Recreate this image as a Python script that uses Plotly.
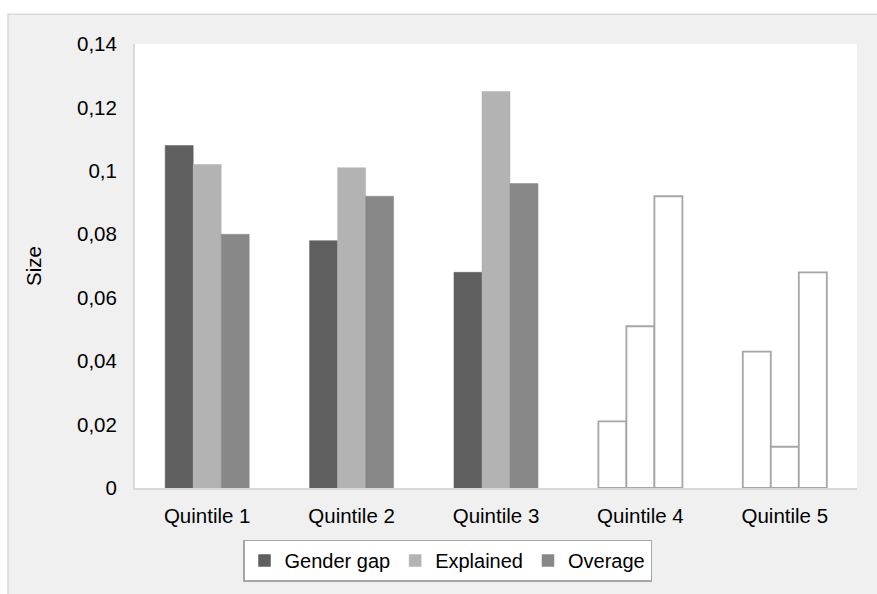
import plotly.graph_objects as go

# Decomposition sizes by income quintile
quintiles = ["Quintile 1", "Quintile 2", "Quintile 3", "Quintile 4", "Quintile 5"]
gender_gap = [0.108, 0.078, 0.068, 0.021, 0.043]
explained = [0.102, 0.101, 0.125, 0.051, 0.013]
overage = [0.080, 0.092, 0.096, 0.092, 0.068]
# Quintiles 1-3 are drawn solid, quintiles 4-5 as hollow outlines
solid = [True, True, True, False, False]

series = [
    ("Gender gap", gender_gap, "#5f5f5f"),
    ("Explained", explained, "#b3b3b3"),
    ("Overage", overage, "#888888"),
]

OUTLINE = "#a6a6a6"
FONT = "Liberation Sans, Arial, sans-serif"

fig = go.Figure()
for name, vals, col in series:
    fills = [col if s else "#ffffff" for s in solid]
    lines = [col if s else OUTLINE for s in solid]
    widths = [0.5 if s else 1.8 for s in solid]
    fig.add_trace(go.Bar(
        x=quintiles, y=vals, name=name,
        marker=dict(color=fills, line=dict(color=lines, width=widths)),
    ))

W, H = 877, 594
ml, mr, mt, mb = 135, 20, 44, 102
pw, ph = W - ml - mr, H - mt - mb


def px_x(p):
    return (p - ml) / pw


def px_y(p):
    return (H - mb - p) / ph


shapes = [
    # grey chart panel (runs off the right and bottom edges)
    dict(type="rect", xref="paper", yref="paper", layer="below",
         x0=px_x(8), x1=px_x(W + 20), y0=px_y(H + 20), y1=px_y(14),
         fillcolor="#f0f0f0", line=dict(color="#d9d9d9", width=1.5)),
    # white plotting area
    dict(type="rect", xref="paper", yref="paper", layer="below",
         x0=0, x1=1, y0=0, y1=1,
         fillcolor="#ffffff", line=dict(width=0)),
]

fig.update_layout(
    width=W, height=H,
    margin=dict(l=ml, r=mr, t=mt, b=mb),
    paper_bgcolor="#ffffff",
    plot_bgcolor="#ffffff",
    separators=", ",
    barmode="group",
    bargap=0.418,
    bargroupgap=0,
    font=dict(family=FONT, size=20, color="#000000"),
    shapes=shapes,
    showlegend=True,
    legend=dict(
        orientation="h",
        x=px_x(447.5), xanchor="center",
        y=px_y(544), yanchor="top",
        bgcolor="#ffffff",
        bordercolor="#a6a6a6", borderwidth=1.5,
        font=dict(family=FONT, size=20, color="#000000"),
        itemwidth=30,
        traceorder="normal",
    ),
)

fig.update_xaxes(
    showline=True, linecolor="#d9d9d9", linewidth=2,
    showgrid=False, ticks="", ticklabelstandoff=8,
    tickfont=dict(family=FONT, size=20.5, color="#000000"),
)
fig.update_yaxes(
    range=[0, 0.14], dtick=0.02, tick0=0,
    showline=True, linecolor="#d9d9d9", linewidth=2,
    showgrid=False, zeroline=False, ticks="", ticklabelstandoff=12,
    tickfont=dict(family=FONT, size=20.5, color="#000000"),
    title=dict(text="Size", standoff=30,
               font=dict(family=FONT, size=20.5, color="#000000")),
)

fig.write_html("out.html")
